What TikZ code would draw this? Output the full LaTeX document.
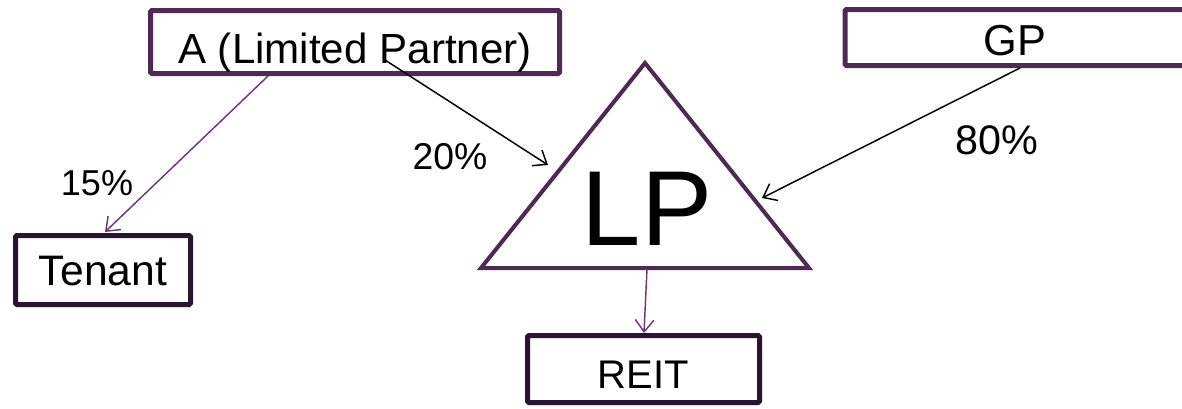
\documentclass[tikz,border=0pt]{standalone}
\usepackage{fontspec}
\setmainfont{Liberation Sans}
\usetikzlibrary{arrows.meta}
\definecolor{plum}{HTML}{4F2A55}
\definecolor{darkplum}{HTML}{2A1530}
\definecolor{linkplum}{HTML}{6E3A78}
\begin{document}
\begin{tikzpicture}[x=0.75pt,y=-0.75pt,
  box/.style={draw=plum, line width=3.75pt, fill=white, inner sep=0pt,
    rounded corners=1pt, text depth=0pt, font=\fontsize{32}{38}\selectfont},
  darkbox/.style={box, draw=darkplum},
  share/.style={inner sep=0pt, font=\fontsize{27}{32}\selectfont},
  link/.style={line width=1.1pt, -{Straight Barb[length=9pt,width=14pt]}},
  plumlink/.style={link, draw=linkplum}]
  \useasboundingbox (0,0) rectangle (1182,408);
  \fill[white] (0,0) rectangle (1182,408);

  % holders (text height sets where the baseline sits in each box)
  \node[box, minimum width=409*0.75pt, minimum height=63*0.75pt, text height=31.5pt,
        font=\fontsize{31.6}{38}\selectfont] (A) at (355,42) {A (Limited Partner)};
  \node[box, minimum width=340*0.75pt, minimum height=56*0.75pt, text height=26.25pt,
        font=\fontsize{32.5}{38}\selectfont] (GP) at (1015,37.5) {GP};
  \node[darkbox, minimum width=175*0.75pt, minimum height=69*0.75pt, text height=22.5pt] (T) at (103,270) {Tenant};
  \node[darkbox, minimum width=232*0.75pt, minimum height=67*0.75pt, text height=28.5pt,
        font=\fontsize{30}{36}\selectfont] (R) at (643.5,369) {REIT};

  % the partnership triangle
  \coordinate (apex) at (645,63);
  \coordinate (bl) at (481,268);
  \coordinate (br) at (809,268);
  \draw[plum, line width=3pt, line join=miter, fill=white] (apex) -- (br) -- (bl) -- cycle;
  \node[inner sep=0pt, font=\fontsize{80}{96}\selectfont] (LP) at (647,209) {LP};

  % connector ends
  \coordinate (a1) at (268,76);
  \coordinate (t1) at (105,232);
  \coordinate (a2) at (385,60);
  \coordinate (lp1) at (548,165);
  \coordinate (g1) at (1020,68);
  \coordinate (lp2) at (762,198);
  \coordinate (lp3) at (647,269);
  \coordinate (r1) at (644,333);

  \draw[plumlink] (a1) -- (t1);
  \draw[link] (a2) -- (lp1);
  \draw[link] (g1) -- (lp2);
  \draw[plumlink] (lp3) -- (r1);

  % ownership shares
  \node[share] (s15) at (97,183) {15\%};
  \node[share, font=\fontsize{28}{33}\selectfont] (s20) at (450,157) {20\%};
  \node[share, font=\fontsize{31}{37}\selectfont] (s80) at (997,140) {80\%};
\end{tikzpicture}
\end{document}
